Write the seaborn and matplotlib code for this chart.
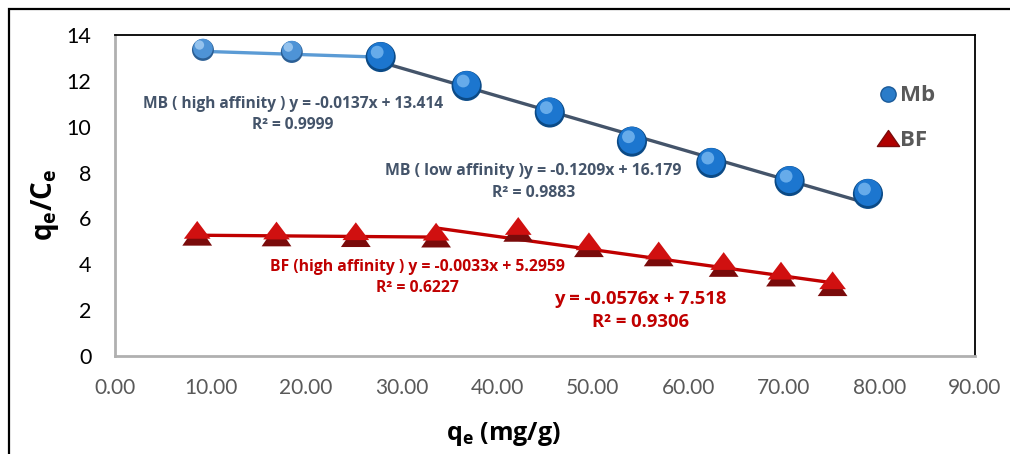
import numpy as np
import pandas as pd
import seaborn as sns
import matplotlib
matplotlib.use("Agg")
import matplotlib.pyplot as plt
from matplotlib.patches import Rectangle
from matplotlib.path import Path
from matplotlib.lines import Line2D
from matplotlib import transforms

# Scatchard data: qe (mg/g) vs qe/Ce
mb_qe = [9.2, 18.5, 27.8, 36.8, 45.5, 54.1, 62.4, 70.6, 78.8]
mb_ratio = [13.35, 13.26, 13.04, 11.78, 10.62, 9.35, 8.42, 7.63, 7.07]
bf_qe = [8.6, 16.9, 25.2, 33.6, 42.2, 49.6, 56.9, 63.7, 69.7, 75.1]
bf_ratio = [5.28, 5.25, 5.22, 5.20, 5.45, 4.78, 4.38, 3.92, 3.50, 3.08]

# Linear fits (slope, intercept, R^2) and the x-range each one covers
mb_high_fit = (-0.0137, 13.414, 0.9999)
mb_low_fit = (-0.1209, 16.179, 0.9883)
bf_high_fit = (-0.0033, 5.2959, 0.6227)
bf_low_fit = (-0.0576, 7.518, 0.9306)
mb_high_range = (9.2, 27.8)
mb_low_range = (27.8, 78.8)
bf_high_range = (8.6, 33.6)
bf_low_range = (33.6, 75.1)

x_ticks = [0, 10, 20, 30, 40, 50, 60, 70, 80, 90]
y_ticks = [0, 2, 4, 6, 8, 10, 12, 14]

sns.set_theme(style="white")
BOLD_FAMILY = ["Open Sans", "DejaVu Sans"]
plt.rcParams["font.family"] = ["Lato", "DejaVu Sans"]
plt.rcParams["mathtext.fontset"] = "custom"
plt.rcParams["mathtext.rm"] = "Open Sans:bold"
plt.rcParams["mathtext.bf"] = "Open Sans:bold"
plt.rcParams["mathtext.default"] = "bf"

fig = plt.figure(figsize=(10.10, 4.54), dpi=100)
ax = fig.add_axes([0.1139, 0.2159, 0.8514, 0.7070])

# outer chart frame
fig.patches.append(Rectangle((9 / 1010, -0.2), 1.2, 1.2 - 9 / 454,
                             transform=fig.transFigure, fill=False,
                             edgecolor="black", linewidth=1.6, zorder=0))

def fit_line(fit, rng, color):
    xs = np.array(rng)
    ys = fit[0] * xs + fit[1]
    sns.lineplot(x=xs, y=ys, ax=ax, color=color, linewidth=2.4, zorder=2,
                 legend=False)

fit_line(mb_high_fit, mb_high_range, "#5B9BD5")
fit_line(mb_low_fit, mb_low_range, "#44546A")
fit_line(bf_high_fit, bf_high_range, "#C00000")
fit_line(bf_low_fit, bf_low_range, "#C00000")

mb = pd.DataFrame({"qe": mb_qe, "ratio": mb_ratio})
bf = pd.DataFrame({"qe": bf_qe, "ratio": bf_ratio})
mb_small = mb.iloc[:2]
mb_big = mb.iloc[2:]

def shifted(dx, dy):
    return ax.transData + transforms.ScaledTranslation(dx / 72, dy / 72, fig.dpi_scale_trans)

# shaded spheres
for d, size, face, dark, hi in [(mb_small, 250, "#4E93D6", "#2B5F95", "#9CC8F0"),
                                (mb_big, 470, "#1C76CF", "#0B4A86", "#6FB2EE")]:
    sns.scatterplot(data=d, x="qe", y="ratio", ax=ax, s=size, color=dark,
                    edgecolor="none", zorder=3, legend=False)
    ax.scatter(d["qe"], d["ratio"], s=size * 0.80, color=face, edgecolor="none",
               zorder=4, transform=shifted(0, 1.0))
    ax.scatter(d["qe"], d["ratio"], s=size * 0.18, color=hi, edgecolor="none",
               zorder=5, alpha=0.9, transform=shifted(-2.5, 3.5))

# flattened triangle marker
tri = Path([(-1.0, -0.72), (1.0, -0.72), (0.0, 0.72), (-1.0, -0.72)],
           [Path.MOVETO, Path.LINETO, Path.LINETO, Path.CLOSEPOLY])
tri_top = Path([(-0.78, -0.32), (0.78, -0.32), (0.0, 0.72), (-0.78, -0.32)],
               [Path.MOVETO, Path.LINETO, Path.LINETO, Path.CLOSEPOLY])
sns.scatterplot(data=bf, x="qe", y="ratio", ax=ax, marker=tri, s=460,
                color="#7A0B0B", edgecolor="none", zorder=3, legend=False)
ax.scatter(bf["qe"], bf["ratio"], marker=tri_top, s=370, color="#D01010",
           edgecolor="none", zorder=4, transform=shifted(0, 1.2))

ax.set_xlabel("")
ax.set_ylabel("")
ax.set_xlim(0, 90)
ax.set_ylim(0, 14)
ax.set_xticks(x_ticks)
ax.set_xticklabels([f"{v:.2f}" for v in x_ticks])
ax.set_yticks(y_ticks)
ax.tick_params(axis="x", labelsize=15, labelcolor="#595959", length=0, pad=16)
ax.tick_params(axis="y", labelsize=15.5, labelcolor="black", length=0, pad=17)

for side in ["top", "right"]:
    ax.spines[side].set_color("black")
    ax.spines[side].set_linewidth(1.3)
for side in ["left", "bottom"]:
    ax.spines[side].set_color("#B0B0B0")
    ax.spines[side].set_linewidth(2.0)

fig.text(503 / 1010, 1 - 434 / 454, r"q$_e$ (mg/g)", ha="center", va="center",
         fontsize=18, fontweight="bold", color="black", family=BOLD_FAMILY)
fig.text(45 / 1010, 1 - 205 / 454, r"q$_e$/C$_e$", ha="center", va="center",
         fontsize=20, fontweight="bold", color="black", rotation=90,
         family=BOLD_FAMILY)

def eq_label(fit, prefix):
    return f"{prefix}y = {fit[0]}x + {fit[1]}\nR\u00b2 = {fit[2]}"

common = dict(ha="center", va="center", fontweight="bold", family=BOLD_FAMILY)
ax.text(18.6, 10.53, eq_label(mb_high_fit, "MB ( high affinity ) "),
        fontsize=11.2, color="#44546A", linespacing=1.45, **common)
ax.text(43.8, 7.59, eq_label(mb_low_fit, "MB ( low affinity )"),
        fontsize=11.4, color="#44546A", linespacing=1.45, **common)
ax.text(31.7, 3.42, eq_label(bf_high_fit, "BF (high affinity ) "),
        fontsize=11.3, color="#C00000", linespacing=1.45, **common)
ax.text(55.0, 1.98, eq_label(bf_low_fit, ""), fontsize=13.3, color="#C00000",
        linespacing=1.35, **common)

handles = [
    Line2D([], [], linestyle="none", marker="o", markersize=11,
           markerfacecolor="#2A7CC9", markeredgecolor="#1A5A99"),
    Line2D([], [], linestyle="none", marker=tri, markersize=16,
           markerfacecolor="#B00000", markeredgecolor="#7A0B0B"),
]
leg = ax.legend(handles, ["Mb", "BF"], loc="upper left",
                bbox_to_anchor=(0.866, 0.905), frameon=False, handlelength=0.7,
                handletextpad=0.2, labelspacing=1.05,
                prop={"family": BOLD_FAMILY, "weight": "bold", "size": 16})
for t in leg.get_texts():
    t.set_color("#595959")

fig.savefig("out.png", dpi=100)
